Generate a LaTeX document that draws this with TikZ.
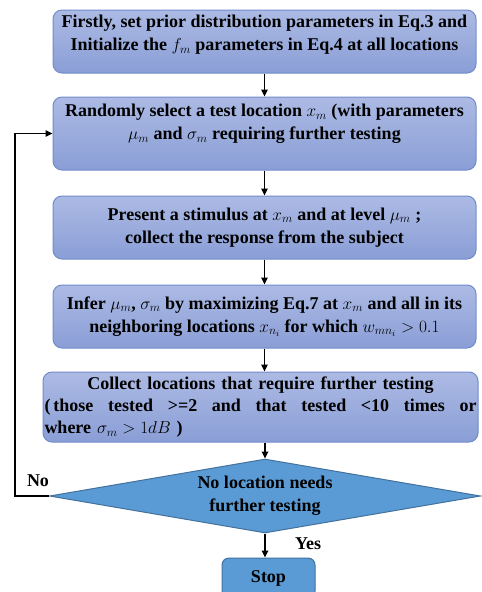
\documentclass[tikz,border=0pt]{standalone}
\usepackage{fontspec}
\setmainfont{Liberation Serif}
\usetikzlibrary{shapes.geometric,arrows.meta}
\definecolor{boxtop}{RGB}{172,186,228}
\definecolor{boxbot}{RGB}{138,158,214}
\definecolor{boxline}{RGB}{112,140,202}
\definecolor{decfill}{RGB}{91,155,213}
\definecolor{decline}{RGB}{65,113,156}
\tikzset{
	boldtext/.style={font=\bfseries\fontsize{18}{23}\selectfont},
	stepbox/.style={boldtext, draw=boxline, line width=1pt, rounded corners=9pt, top color=boxtop, bottom color=boxbot, align=center, inner sep=0pt},
	decision/.style={boldtext, diamond, draw=decline, line width=1pt, fill=decfill, align=center, inner sep=0pt},
	stopbox/.style={boldtext, draw=decline, line width=1pt, fill=decfill, rounded corners=7pt, inner sep=0pt},
	flow/.style={line width=1.6pt, -{Triangle[length=7pt,width=6.5pt]}}
}

\begin{document}
\begin{tikzpicture}[x=1pt,y=1pt]
			%%%%% START %%%%%
			\useasboundingbox (0,0) rectangle (482,-592);
			
			\node[stepbox, minimum width=423pt, minimum height=63pt] (init) at (264.5,-41.5) {Firstly, set prior distribution parameters in Eq.3 and\\Initialize the $f_m$ parameters in Eq.4 at all locations\\[-6pt]{}};
			\node[stepbox, minimum width=423pt, minimum height=73pt] (select) at (264.5,-133.5) {Randomly select a test location $x_m$ (with parameters\\$\mu_m$ and $\sigma_m$ requiring further testing\\{}};
			\node[stepbox, minimum width=423pt, minimum height=63pt] (present) at (264.5,-227.5) {Present a stimulus at $x_m$ and at level $\mu_m$ ;\\collect the response from the subject};
			\node[stepbox, minimum width=423pt, minimum height=63pt] (infer) at (264.5,-316.5) {Infer $\mu_m$, $\sigma_m$ by maximizing Eq.7 at $x_m$ and all in its\\neighboring locations $x_{n_i}$ for which $w_{mn_i} > 0.1$};
			\node[stepbox, minimum width=435pt, minimum height=70pt, text width=432pt, align=left, font=\bfseries\fontsize{18}{22}\selectfont] (collect) at (260.5,-407) {\makebox[\linewidth][c]{Collect locations that require further testing}\\\makebox[\linewidth][s]{(\,those\hfill tested\hfill >=2\hfill and\hfill that\hfill tested\hfill <10\hfill times\hfill or}\\where $\sigma_m > 1dB$ )};
			
			\node[decision, minimum width=431pt, minimum height=74pt, aspect=5.8] (check) at (265,-496) {No location needs\\further testing};
			\node[stopbox, minimum width=93pt, minimum height=40pt] (stop) at (268.5,-578) {Stop};
			
			\node[boldtext] (nolbl) at (38,-481) {No};
			\node[boldtext] (yeslbl) at (308,-544) {Yes};
			
			\draw[flow] (init.south) -- (select.north);
			\draw[flow] (select.south) -- (present.north);
			\draw[flow] (present.south) -- (infer.north);
			\draw[flow] (infer.south) -- (collect.north -| infer.south);
			\draw[flow] (collect.south -| check.north) -- (check.north);
			\draw[flow] (check.south) -- (check.south |- stop.north);
			\draw[flow] (check.west) -- ++(-34,0) |- (select.west);
			
			%%%%% END %%%%%
\end{tikzpicture}
\end{document}
